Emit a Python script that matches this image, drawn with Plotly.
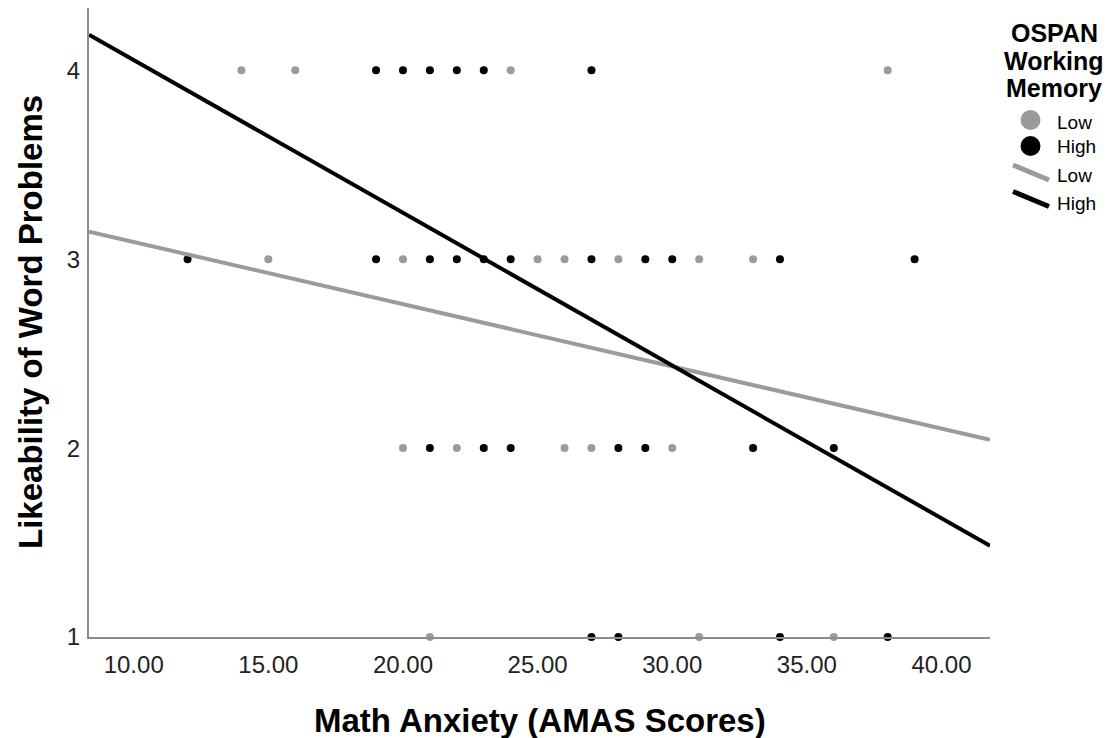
import plotly.graph_objects as go

# ---- data ----
low_x = [14, 16, 24, 38,
         15, 20, 25, 26, 28, 31, 33,
         20, 22, 26, 27, 30,
         21, 31, 36]
low_y = [4, 4, 4, 4,
         3, 3, 3, 3, 3, 3, 3,
         2, 2, 2, 2, 2,
         1, 1, 1]
high_x = [19, 20, 21, 22, 23, 27,
          12, 19, 21, 22, 23, 24, 27, 29, 30, 34, 39,
          21, 23, 24, 28, 29, 33, 36,
          27, 28, 34, 38]
high_y = [4, 4, 4, 4, 4, 4,
          3, 3, 3, 3, 3, 3, 3, 3, 3, 3, 3,
          2, 2, 2, 2, 2, 2, 2,
          1, 1, 1, 1]
fit_x = [8.34, 41.8]
fit_low_y = [3.146, 2.044]
fit_high_y = [4.189, 1.483]
x_ticks = [10, 15, 20, 25, 30, 35, 40]
x_tick_labels = ["10.00", "15.00", "20.00", "25.00", "30.00", "35.00", "40.00"]
y_ticks = [1, 2, 3, 4]
legend_title_lines = ["OSPAN", "Working", "Memory"]
legend_labels = ["Low", "High", "Low", "High"]

GRAY = "#9b9b9b"
BLACK = "#000000"
FONT = "Arial, Liberation Sans, sans-serif"

W, H = 1107, 738
# plot area in screen pixels: x 89..990, y 8..637
L, R, T, B = 89, 1107 - 990, 8, 738 - 637
PW, PH = W - L - R, H - T - B


def px(xs):  # screen x -> paper
    return (xs - L) / PW


def py(ys):  # screen y -> paper
    return (H - B - ys) / PH


fig = go.Figure()
fig.add_trace(go.Scatter(x=low_x, y=low_y, mode="markers",
                         marker=dict(color=GRAY, size=8), cliponaxis=False, showlegend=False))
fig.add_trace(go.Scatter(x=high_x, y=high_y, mode="markers",
                         marker=dict(color=BLACK, size=8), cliponaxis=False, showlegend=False))
fig.add_trace(go.Scatter(x=fit_x, y=fit_low_y, mode="lines",
                         line=dict(color=GRAY, width=4), showlegend=False))
fig.add_trace(go.Scatter(x=fit_x, y=fit_high_y, mode="lines",
                         line=dict(color=BLACK, width=4), showlegend=False))

annotations = [
    dict(text="<b>Math Anxiety (AMAS Scores)</b>", xref="paper", yref="paper",
         x=px(540), y=py(720), xanchor="center", yanchor="middle", showarrow=False,
         font=dict(family=FONT, size=33, color="#000")),
    dict(text="<b>Likeability of Word Problems</b>", xref="paper", yref="paper",
         x=px(30), y=py(322), xanchor="center", yanchor="middle", showarrow=False,
         textangle=-90, font=dict(family=FONT, size=33, color="#000")),
]
for line, yy in zip(legend_title_lines, [33, 60.5, 88]):
    annotations.append(dict(text="<b>" + line + "</b>", xref="paper", yref="paper",
                            x=px(1054), y=py(yy), xanchor="center", yanchor="middle",
                            showarrow=False, font=dict(family=FONT, size=25, color="#000")))

legend_rows = [122.5, 146.5, 175.5, 203]
for lab, yy in zip(legend_labels, legend_rows):
    annotations.append(dict(text=lab, xref="paper", yref="paper", x=px(1055), y=py(yy),
                            xanchor="left", yanchor="middle", showarrow=False,
                            font=dict(family=FONT, size=19, color="#000")))

shapes = []
r = 10
for col, yy in [(GRAY, 120), (BLACK, 146)]:
    shapes.append(dict(type="circle", xref="paper", yref="paper",
                       x0=px(1030.5 - r), x1=px(1030.5 + r), y0=py(yy + r), y1=py(yy - r),
                       fillcolor=col, line=dict(width=0)))
for col, yy in [(GRAY, 172.5), (BLACK, 199)]:
    shapes.append(dict(type="line", xref="paper", yref="paper",
                       x0=px(1013), y0=py(yy - 7.5), x1=px(1049), y1=py(yy + 7.5),
                       line=dict(color=col, width=5)))

fig.update_layout(
    width=W, height=H,
    margin=dict(l=L, r=R, t=T, b=B, pad=0),
    paper_bgcolor="white", plot_bgcolor="white",
    font=dict(family=FONT, color="#222"),
    annotations=annotations, shapes=shapes,
    xaxis=dict(range=[8.34, 41.8], tickvals=x_ticks, ticktext=x_tick_labels,
               showgrid=False, zeroline=False, showline=True, linecolor="#8c8c8c",
               linewidth=2, ticks="", tickfont=dict(size=24, color="#222"),
               ticklabelstandoff=5),
    yaxis=dict(range=[1, 4.33], tickvals=y_ticks, showgrid=False, zeroline=False,
               showline=True, linecolor="#8c8c8c", linewidth=2, ticks="",
               tickfont=dict(size=24, color="#222"), ticklabelstandoff=2),
)

fig.write_html("out.html",
               config={"displayModeBar": False},
               post_script="document.body.style.margin='0';document.body.style.overflow='hidden';")
